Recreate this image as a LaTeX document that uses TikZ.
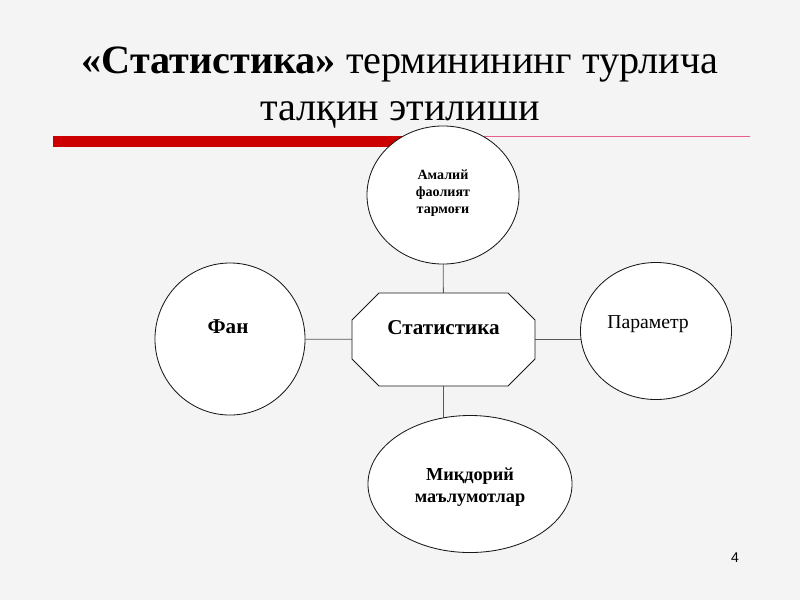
\documentclass[tikz,border=0pt]{standalone}
\usepackage{fontspec}
\setmainfont{Liberation Serif}
\setsansfont{Liberation Sans}
\usetikzlibrary{shapes.geometric,backgrounds}
\definecolor{slidebg}{HTML}{F4F4F4}
\definecolor{barred}{HTML}{CC0000}
\definecolor{barpink}{HTML}{E8608A}

\tikzset{
  bubble/.style={ellipse, draw=black!90, line width=0.6pt, fill=white, inner sep=0pt, outer sep=0pt},
  octobox/.style={rectangle, inner sep=0pt, outer sep=0pt,
    minimum width=4.575cm, minimum height=2.325cm},
  octoline/.style={draw=black!90, line width=0.6pt, fill=white},
  link/.style={draw=black!65, line width=0.6pt},
  boldtxt/.style={font=\bfseries\fontsize{#1}{1.2\dimexpr#1pt\relax}\selectfont, align=center},
}

\begin{document}
\begin{tikzpicture}[x=0.025cm, y=-0.025cm]
    \begin{scope}[on background layer]
        \fill[slidebg] (0,0) rectangle (800,600);
    \end{scope}
    \useasboundingbox (0,0) rectangle (800,600);

    % title
    \node[anchor=base, font=\fontsize{28.6}{34}\selectfont] (title1) at (400,73.5)
        {\textbf{«Статистика»} терминининг турлича};
    \node[anchor=base, font=\fontsize{28.6}{34}\selectfont] (title2) at (400,120)
        {талқин этилиши};

    % red rule
    \fill[barred] (53,136) rectangle (443,147);
    \draw[barpink, line width=1.1pt] (443,136.5) -- (750,136.5);

    % nodes
    \node[bubble, minimum width=3.8cm, minimum height=3.45cm,
        label={[boldtxt=10, yshift=0.05cm]center:Амалий\\фаолият\\тармоғи}] (amal) at (443,195) {};
    \node[octobox, label={[boldtxt=15, yshift=0.3cm]center:Статистика}] (stat) at (443.5,339.5) {};
    \node[bubble, minimum width=3.75cm, minimum height=3.8cm,
        label={[boldtxt=15, xshift=-0.05cm, yshift=0.3cm]center:Фан}] (fan) at (230,339) {};
    \node[bubble, minimum width=3.775cm, minimum height=3.425cm,
        label={[font=\fontsize{14}{17}\selectfont, xshift=-0.2cm, yshift=0.18cm]center:Параметр}] (param) at (656,331) {};
    \node[bubble, minimum width=5.1cm, minimum height=3.425cm,
        label={[boldtxt=13, yshift=-0.08cm]center:Миқдорий\\маълумотлар}] (miqdor) at (470,484) {};

    % connectors, then the octagon on top of them
    \begin{scope}[on background layer]
        \draw[link] (amal) -- (stat);
        \draw[link] (fan) -- (stat);
        \draw[link] (stat.east) -- (stat.east -| param.center);
        \draw[link] (stat.south) -- (stat.south |- miqdor.center);
        \filldraw[octoline] ([xshift=0.675cm]stat.north west) -- ([xshift=-0.675cm]stat.north east)
            -- ([yshift=-0.675cm]stat.north east) -- ([yshift=0.675cm]stat.south east)
            -- ([xshift=-0.675cm]stat.south east) -- ([xshift=0.675cm]stat.south west)
            -- ([yshift=0.675cm]stat.south west) -- ([yshift=-0.675cm]stat.north west) -- cycle;
    \end{scope}

    \node[font=\sffamily\fontsize{10}{12}\selectfont] (pagenum) at (735,558) {4};
\end{tikzpicture}
\end{document}
